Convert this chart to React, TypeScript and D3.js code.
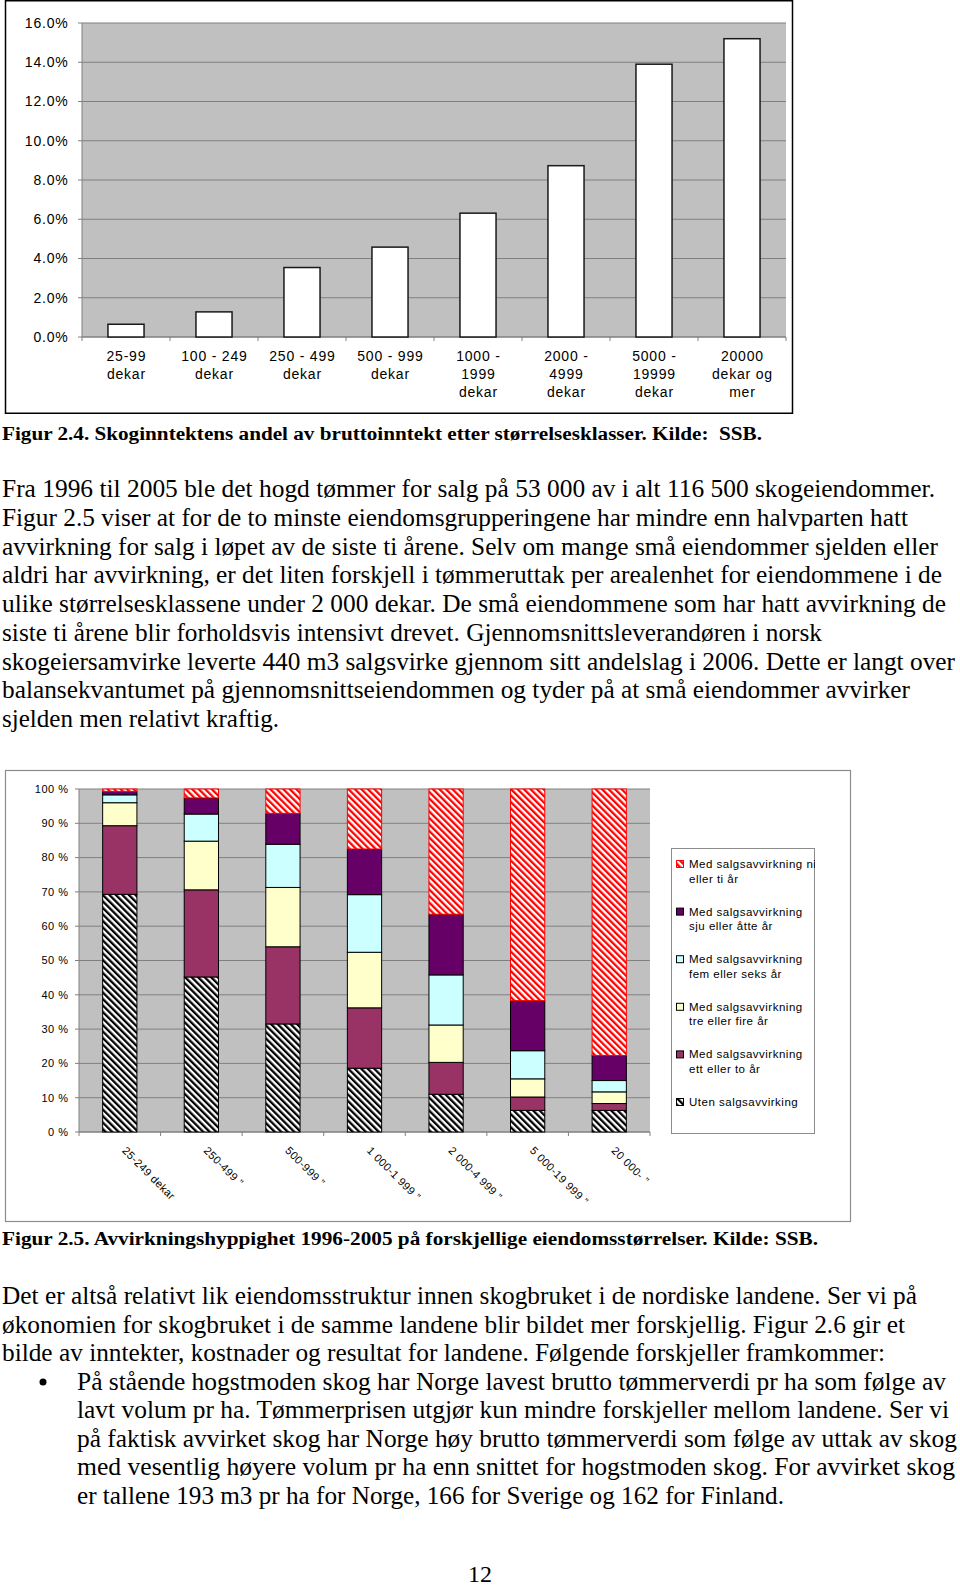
import React from "react";
import * as d3 from "d3";

// ---------- Figure 2.4 data ----------
const sizeClasses1: string[][] = [
  ["25-99", "dekar"],
  ["100 - 249", "dekar"],
  ["250 - 499", "dekar"],
  ["500 - 999", "dekar"],
  ["1000 -", "1999", "dekar"],
  ["2000 -", "4999", "dekar"],
  ["5000 -", "19999", "dekar"],
  ["20000", "dekar og", "mer"],
];
const forestShare = [0.65, 1.28, 3.54, 4.58, 6.31, 8.73, 13.9, 15.2];
const yTicks1 = [0, 2, 4, 6, 8, 10, 12, 14, 16];

// ---------- Figure 2.5 data ----------
const sizeClasses2 = [
  "25-249 dekar",
  "250-499 \u201d",
  "500-999 \u201d",
  "1 000-1 999 \u201d",
  "2 000-4 999 \u201d",
  "5 000-19 999 \u201d",
  "20 000- \u201d",
];
const uten = [69.3, 45.2, 31.5, 18.6, 11.0, 6.3, 6.3];
const ettTo = [20.0, 25.4, 22.5, 17.6, 9.3, 3.9, 2.0];
const treFire = [6.7, 14.2, 17.3, 16.2, 10.9, 5.3, 3.4];
const femSeks = [2.3, 7.9, 12.6, 16.8, 14.6, 8.2, 3.3];
const sjuAtte = [1.0, 4.7, 9.0, 13.3, 17.7, 14.6, 7.3];
const niTi = [0.7, 2.6, 7.1, 17.5, 36.5, 61.7, 77.7];
const yTicks2 = [0, 10, 20, 30, 40, 50, 60, 70, 80, 90, 100];

const seriesKeys = ["uten", "ettTo", "treFire", "femSeks", "sjuAtte", "niTi"];
const seriesValues: Record<string, number[]> = { uten, ettTo, treFire, femSeks, sjuAtte, niTi };
const legendLabels: Record<string, string[]> = {
  niTi: ["Med salgsavvirkning ni", "eller ti år"],
  sjuAtte: ["Med salgsavvirkning", "sju eller åtte år"],
  femSeks: ["Med salgsavvirkning", "fem eller seks år"],
  treFire: ["Med salgsavvirkning", "tre eller fire år"],
  ettTo: ["Med salgsavvirkning", "ett eller to år"],
  uten: ["Uten salgsavvirking"],
};
const legendOrder = ["niTi", "sjuAtte", "femSeks", "treFire", "ettTo", "uten"];

// ---------- Text ----------
const caption1 = "Figur 2.4. Skoginntektens andel av bruttoinntekt etter størrelsesklasser. Kilde:  SSB.";
const para1 = [
  "Fra 1996 til 2005 ble det hogd tømmer for salg på 53 000 av i alt 116 500 skogeiendommer.",
  "Figur 2.5 viser at for de to minste eiendomsgrupperingene har mindre enn halvparten hatt",
  "avvirkning for salg i løpet av de siste ti årene. Selv om mange små eiendommer sjelden eller",
  "aldri har avvirkning, er det liten forskjell i tømmeruttak per arealenhet for eiendommene i de",
  "ulike størrelsesklassene under 2 000 dekar. De små eiendommene som har hatt avvirkning de",
  "siste ti årene blir forholdsvis intensivt drevet. Gjennomsnittsleverandøren i norsk",
  "skogeiersamvirke leverte 440 m3 salgsvirke gjennom sitt andelslag i 2006. Dette er langt over",
  "balansekvantumet på gjennomsnittseiendommen og tyder på at små eiendommer avvirker",
  "sjelden men relativt kraftig.",
];
const para1Widths = [933, 906, 936, 940, 944, 820, 953, 908, 277];
const caption2 = "Figur 2.5. Avvirkningshyppighet 1996-2005 på forskjellige eiendomsstørrelser. Kilde: SSB.";
const para2 = [
  "Det er altså relativt lik eiendomsstruktur innen skogbruket i de nordiske landene. Ser vi på",
  "økonomien for skogbruket i de samme landene blir bildet mer forskjellig. Figur 2.6 gir et",
  "bilde av inntekter, kostnader og resultat for landene. Følgende forskjeller framkommer:",
];
const para2Widths = [915, 903, 883];
const bullet = [
  "På stående hogstmoden skog har Norge lavest brutto tømmerverdi pr ha som følge av",
  "lavt volum pr ha. Tømmerprisen utgjør kun mindre forskjeller mellom landene. Ser vi",
  "på faktisk avvirket skog har Norge høy brutto tømmerverdi som følge av uttak av skog",
  "med vesentlig høyere volum pr ha enn snittet for hogstmoden skog. For avvirket skog",
  "er tallene 193 m3 pr ha for Norge, 166 for Sverige og 162 for Finland.",
];
const bulletWidths = [869, 872, 880, 878, 707];

const SANS = "Liberation Sans, Arimo, Arial, Helvetica, sans-serif";
const SERIF = "Liberation Serif, Tinos, Times New Roman, Times, serif";

const fills: Record<string, string> = {
  uten: "url(#stripeBlack)",
  ettTo: "#993366",
  treFire: "#FFFFCC",
  femSeks: "#CCFFFF",
  sjuAtte: "#660066",
  niTi: "url(#stripeRed)",
};
const strokes: Record<string, string> = {
  uten: "#000",
  ettTo: "#000",
  treFire: "#000",
  femSeks: "#000",
  sjuAtte: "#000",
  niTi: "#ff0000",
};

export default function App() {
  // Chart 1 scales
  const x1 = d3
    .scaleBand<number>()
    .domain(d3.range(sizeClasses1.length))
    .range([82, 786])
    .paddingInner(0.59)
    .paddingOuter(0.295);
  const y1 = d3.scaleLinear().domain([0, 16]).range([337, 23]);
  const step1 = x1.step();
  const x1Start = 82;

  // Chart 2 scales
  const x2 = d3
    .scaleBand<number>()
    .domain(d3.range(sizeClasses2.length))
    .range([79, 650])
    .paddingInner(0.58)
    .paddingOuter(0.29);
  const y2 = d3.scaleLinear().domain([0, 100]).range([1132, 789]);
  const step2 = x2.step();

  const rows = sizeClasses2.map((_, i) => {
    const r: Record<string, number> = { i };
    seriesKeys.forEach((k) => (r[k] = seriesValues[k][i]));
    return r;
  });
  const stacked = d3.stack<Record<string, number>>().keys(seriesKeys)(rows);

  const sansStyle = { fontFamily: SANS };
  const serifStyle = { fontFamily: SERIF };

  return (
    <svg
      width={960}
      height={1586}
      style={{ position: "absolute", left: 0, top: 0, background: "#fff" }}
    >
      <defs>
        <pattern id="stripeBlack" patternUnits="userSpaceOnUse" width={4.6} height={4.6} patternTransform="rotate(-45)">
          <rect width={4.6} height={4.6} fill="#fff" />
          <rect width={2.3} height={4.6} fill="#000" />
        </pattern>
        <pattern id="stripeRed" patternUnits="userSpaceOnUse" width={4.6} height={4.6} patternTransform="rotate(-45)">
          <rect width={4.6} height={4.6} fill="#fff" />
          <rect width={2.3} height={4.6} fill="#ff0000" />
        </pattern>
        <clipPath id="legendClip">
          <rect x={671} y={848} width={144} height={286} />
        </clipPath>
      </defs>

      {/* ================= Figure 2.4 ================= */}
      <rect x={5.5} y={0.75} width={787} height={412.5} fill="#fff" stroke="#000" strokeWidth={1.5} />
      <rect x={82} y={23} width={704} height={314} fill="#c0c0c0" />
      {yTicks1.map((t) => (
        <g key={"g1" + t}>
          <line x1={82} x2={786} y1={y1(t)} y2={y1(t)} stroke="#808080" strokeWidth={1.2} />
          <line x1={78} x2={82} y1={y1(t)} y2={y1(t)} stroke="#808080" strokeWidth={1} />
          <text
            x={68.5}
            y={y1(t)}
            dy="0.35em"
            textAnchor="end"
            style={sansStyle}
            fontSize={14}
            letterSpacing={0.8}
            fill="#000"
          >
            {t.toFixed(1) + "%"}
          </text>
        </g>
      ))}
      <line x1={82} x2={82} y1={23} y2={337} stroke="#808080" strokeWidth={1} />
      <line x1={82} x2={786} y1={337} y2={337} stroke="#808080" strokeWidth={1.2} />
      {d3.range(sizeClasses1.length + 1).map((i) => (
        <line
          key={"t1" + i}
          x1={x1Start + i * step1}
          x2={x1Start + i * step1}
          y1={337}
          y2={341}
          stroke="#808080"
          strokeWidth={1}
        />
      ))}
      {forestShare.map((v, i) => (
        <rect
          key={"b1" + i}
          x={x1(i)!}
          y={y1(v)}
          width={x1.bandwidth()}
          height={y1(0) - y1(v)}
          fill="#fff"
          stroke="#1a1a1a"
          strokeWidth={1.5}
        />
      ))}
      {sizeClasses1.map((lines, i) =>
        lines.map((l, j) => (
          <text
            key={"l1" + i + j}
            x={x1(i)! + x1.bandwidth() / 2 + 0.4}
            y={356 + j * 18}
            dy="0.35em"
            textAnchor="middle"
            style={sansStyle}
            fontSize={14}
            letterSpacing={0.8}
            fill="#000"
          >
            {l}
          </text>
        ))
      )}

      {/* Caption 1 */}
      <text
        x={2}
        y={440}
        fontWeight="bold"
        fontSize={18}
        textLength={760}
        lengthAdjust="spacingAndGlyphs"
        style={{ ...serifStyle, whiteSpace: "pre" }}
      >
        {caption1}
      </text>

      {/* Paragraph 1 */}
      {para1.map((l, i) => (
        <text
          key={"p1" + i}
          x={2}
          y={497 + i * 28.75}
          style={serifStyle}
          fontSize={25}
          textLength={para1Widths[i]}
          lengthAdjust="spacingAndGlyphs"
        >
          {l}
        </text>
      ))}

      {/* ================= Figure 2.5 ================= */}
      <rect x={5.5} y={770.5} width={845} height={451} fill="#fff" stroke="#8c8c8c" strokeWidth={1.2} />
      <rect x={79} y={789} width={571} height={343} fill="#c0c0c0" />
      {yTicks2.map((t) => (
        <g key={"g2" + t}>
          <line x1={79} x2={650} y1={y2(t)} y2={y2(t)} stroke="#808080" strokeWidth={1} />
          <line x1={75} x2={79} y1={y2(t)} y2={y2(t)} stroke="#808080" strokeWidth={1} />
          <text
            x={68.5}
            y={y2(t)}
            dy="0.35em"
            textAnchor="end"
            style={sansStyle}
            fontSize={11}
            letterSpacing={0.5}
            fill="#000"
          >
            {t + " %"}
          </text>
        </g>
      ))}
      <line x1={79} x2={79} y1={789} y2={1132} stroke="#808080" strokeWidth={1} />
      <line x1={79} x2={650} y1={1132} y2={1132} stroke="#808080" strokeWidth={1.2} />
      {d3.range(sizeClasses2.length + 1).map((i) => (
        <line
          key={"t2" + i}
          x1={79 + i * step2}
          x2={79 + i * step2}
          y1={1132}
          y2={1136}
          stroke="#808080"
          strokeWidth={1}
        />
      ))}
      {stacked.map((s) => (
        <g key={"s" + s.key}>
          {s.map((d, i) => (
            <rect
              key={s.key + i}
              x={x2(i)!}
              y={y2(d[1])}
              width={x2.bandwidth()}
              height={y2(d[0]) - y2(d[1])}
              fill={fills[s.key]}
              stroke={strokes[s.key]}
              strokeWidth={1}
            />
          ))}
        </g>
      ))}
      {sizeClasses2.map((l, i) => (
        <text
          key={"l2" + i}
          transform={`translate(${x2(i)! + x2.bandwidth() / 2 + 4},${1149}) rotate(45)`}
          fontSize={11}
          letterSpacing={0.4}
          dy="0.3em"
          fill="#000"
          style={{ ...sansStyle, whiteSpace: "pre" }}
        >
          {l}
        </text>
      ))}

      {/* Legend */}
      <rect x={671.5} y={848.5} width={143} height={285} fill="#fff" stroke="#8c8c8c" strokeWidth={1} />
      <g clipPath="url(#legendClip)">
        {legendOrder.map((k, i) => {
          const top = 864 + i * 47.6;
          return (
            <g key={"lg" + k}>
              <rect x={676.5} y={top - 3.5} width={7} height={7} fill={fills[k]} stroke={k === "niTi" ? "#ff0000" : "#000"} strokeWidth={1} />
              {legendLabels[k].map((t, j) => (
                <text
                  key={k + j}
                  x={689}
                  y={top + j * 14.5}
                  dy="0.35em"
                  style={sansStyle}
                  fontSize={11.5}
                  letterSpacing={0.5}
                  fill="#000"
                >
                  {t}
                </text>
              ))}
            </g>
          );
        })}
      </g>

      {/* Caption 2 */}
      <text
        x={2}
        y={1245}
        style={serifStyle}
        fontWeight="bold"
        fontSize={18}
        textLength={816}
        lengthAdjust="spacingAndGlyphs"
      >
        {caption2}
      </text>

      {/* Paragraph 2 */}
      {para2.map((l, i) => (
        <text
          key={"p2" + i}
          x={2}
          y={1304 + i * 28.6}
          style={serifStyle}
          fontSize={25}
          textLength={para2Widths[i]}
          lengthAdjust="spacingAndGlyphs"
        >
          {l}
        </text>
      ))}
      <circle cx={43} cy={1382} r={3.5} fill="#000" />
      {bullet.map((l, i) => (
        <text
          key={"bl" + i}
          x={77}
          y={1390 + i * 28.4}
          style={serifStyle}
          fontSize={25}
          textLength={bulletWidths[i]}
          lengthAdjust="spacingAndGlyphs"
        >
          {l}
        </text>
      ))}

      {/* Page number */}
      <text x={480} y={1582} textAnchor="middle" style={serifStyle} fontSize={24}>
        12
      </text>
    </svg>
  );
}
